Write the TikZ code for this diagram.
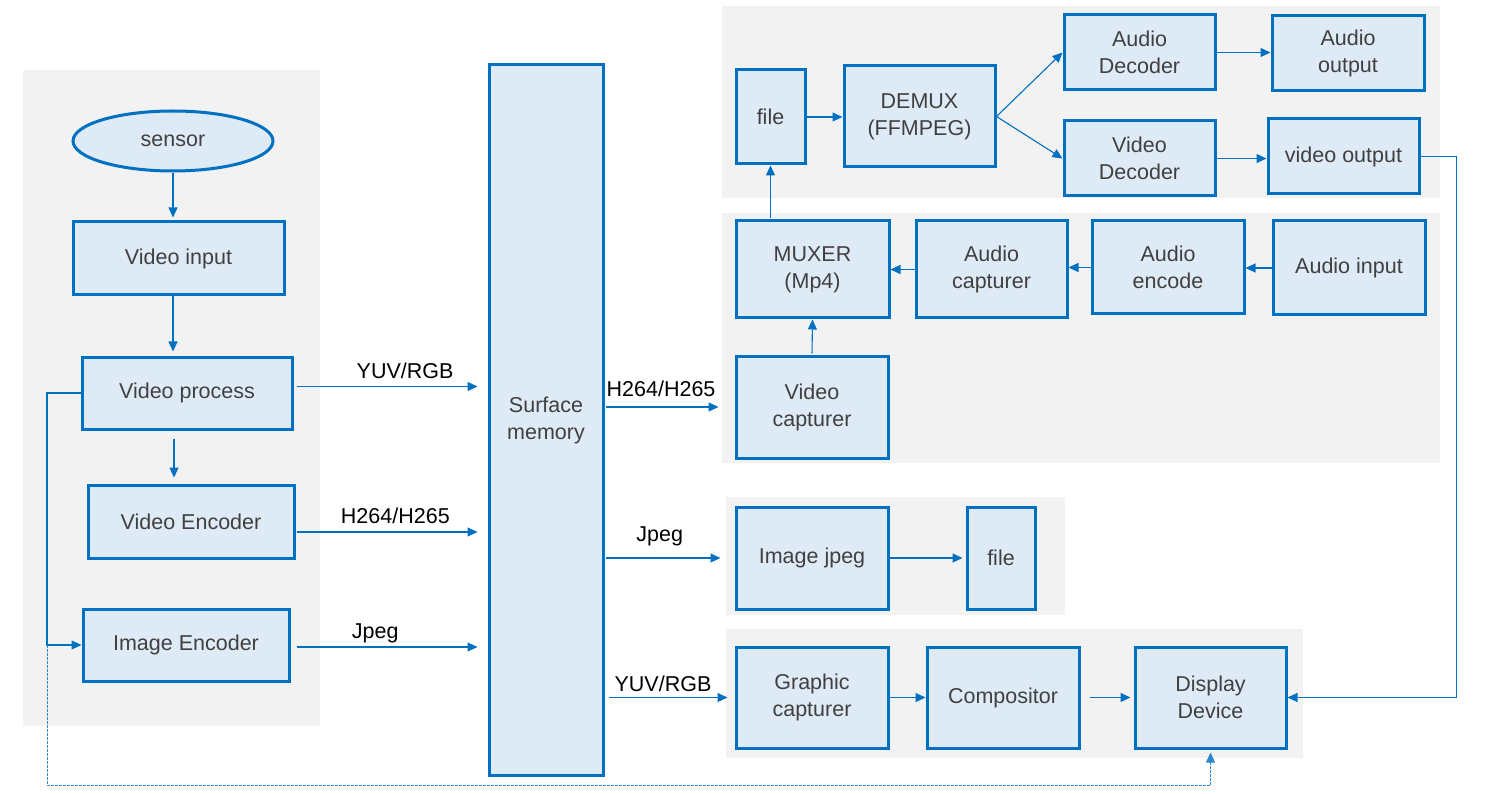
\documentclass[tikz,border=0pt]{standalone}
\usepackage{fontspec}
\setmainfont{Liberation Sans}
\usetikzlibrary{arrows.meta,shapes.geometric}
\begin{document}
\begin{tikzpicture}[x=1pt,y=-1pt,
  blk/.style={draw=flowBlue,fill=flowFill,line width=3pt,text=flowText,align=center,
    font=\fontsize{21.5}{27}\selectfont,inner sep=0pt},
  flow/.style={draw=flowBlue,line width=1.1pt,-{Triangle[length=10pt,width=9pt]}},
  lbl/.style={font=\fontsize{21.5}{24}\selectfont,text=black,inner sep=0pt}]
\definecolor{flowBlue}{HTML}{0070C0}
\definecolor{flowFill}{HTML}{DEEAF6}
\definecolor{flowText}{HTML}{404040}
\definecolor{panelGray}{HTML}{F2F2F2}
\definecolor{dashBlue}{HTML}{2F86CC}
\useasboundingbox (0,0) rectangle (1486,794);
% panels
\fill[panelGray] (23,70) rectangle (320,726);
\fill[panelGray] (722,6) rectangle (1440,198);
\fill[panelGray] (722,213) rectangle (1440,463);
\fill[panelGray] (726,497) rectangle (1065,615);
\fill[panelGray] (726,629) rectangle (1303,758);
% left column
\node[blk,ellipse,minimum width=200pt,minimum height=60pt] (sensor) at (173,141) {sensor};
\node[blk,minimum width=211pt,minimum height=73pt] (vin) at (178.5,258.5) {Video input};
\node[blk,minimum width=210pt,minimum height=72pt] (vproc) at (187,393) {Video process};
\node[blk,minimum width=206pt,minimum height=73pt] (venc) at (191,521.5) {Video Encoder};
\node[blk,minimum width=206pt,minimum height=72pt] (ienc) at (186,645) {Image Encoder};
\node[blk,minimum width=114pt,minimum height=710pt] (surf) at (546,420) {Surface\\memory};
% playback
\node[blk,minimum width=69pt,minimum height=94pt] (file1) at (770.5,117) {file};
\node[blk,minimum width=151pt,minimum height=101pt] (demux) at (919.5,116.5) {DEMUX\\(FFMPEG)};
\node[blk,minimum width=151pt,minimum height=75pt] (adec) at (1139.5,52.5) {Audio\\Decoder};
\node[blk,minimum width=152pt,minimum height=75pt] (aout) at (1348,53.5) {Audio\\output};
\node[blk,minimum width=151pt,minimum height=75pt] (vdec) at (1139.5,158.5) {Video\\Decoder};
\node[blk,minimum width=151pt,minimum height=75pt] (vout) at (1343.5,156.5) {video output};
% recording
\node[blk,minimum width=153pt,minimum height=97pt] (muxer) at (812.5,269.5) {MUXER\\(Mp4)};
\node[blk,minimum width=151pt,minimum height=97pt] (acap) at (991.5,269.5) {Audio\\capturer};
\node[blk,minimum width=152pt,minimum height=93pt] (aenc) at (1168,267.5) {Audio\\encode};
\node[blk,minimum width=152pt,minimum height=94pt] (ain) at (1349,268) {Audio input};
\node[blk,minimum width=152pt,minimum height=102pt] (vcap) at (812,407) {Video\\capturer};
% snapshot
\node[blk,minimum width=152pt,minimum height=102pt] (ijpg) at (812,558) {Image jpeg};
\node[blk,minimum width=68pt,minimum height=102pt] (file2) at (1001,558) {file};
% display
\node[blk,minimum width=152pt,minimum height=101pt] (gcap) at (812,697.5) {Graphic\\capturer};
\node[blk,minimum width=152pt,minimum height=101pt] (comp) at (1003,697.5) {Compositor};
\node[blk,minimum width=151pt,minimum height=101pt] (disp) at (1210.5,697.5) {Display\\Device};
% left chain
\draw[flow,shorten <=1pt,shorten >=3pt] (sensor.south) -- (sensor.south |- vin.north);
\draw[flow,shorten >=4pt] ([xshift=-5.5pt]vin.south) -- ([xshift=-5.5pt]vin.south |- vproc.north);
\draw[flow,shorten <=8pt,shorten >=6pt] ([xshift=-13pt]vproc.south) -- ([xshift=-13pt]vproc.south |- venc.north);
% into surface memory
\draw[flow,shorten <=3pt,shorten >=10pt] ([yshift=6.5pt]vproc.east) -- ([yshift=6.5pt]vproc.east -| surf.west)
  node[lbl,pos=0.575,above=7pt] {YUV/RGB};
\draw[flow,shorten <=1pt,shorten >=10pt] ([yshift=-10.5pt]venc.east) -- ([yshift=-10.5pt]venc.east -| surf.west)
  node[lbl,pos=0.52,above=8pt] {H264/H265};
\draw[flow,shorten <=6pt,shorten >=10pt] ([yshift=-2pt]ienc.east) -- ([yshift=-2pt]ienc.east -| surf.west)
  node[lbl,pos=0.43,above=3pt] {Jpeg};
% out of surface memory
\draw[flow,shorten <=1pt,shorten >=16pt] (vcap.west -| surf.east) -- (vcap.west)
  node[lbl,pos=0.435,above=10pt] {H264/H265};
\draw[flow,shorten <=1pt,shorten >=14pt] (ijpg.west -| surf.east) -- (ijpg.west)
  node[lbl,pos=0.425,above=11pt] {Jpeg};
\draw[flow,shorten <=4pt,shorten >=7pt] (gcap.west -| surf.east) -- (gcap.west)
  node[lbl,pos=0.45,above=5pt] {YUV/RGB};
% recording chain
\draw[flow,shorten <=1pt] (vcap.north) -- (muxer.south);
\draw[flow] (acap.west) -- (muxer.east);
\draw[flow] (aenc.west) -- (aenc.west -| acap.east);
\draw[flow] (ain.west) -- (ain.west -| aenc.east);
\draw[flow,shorten <=1pt] (muxer.north -| file1) -- (file1.south);
% playback chain
\draw[flow] (file1.east) -- (file1.east -| demux.west);
\draw[flow] (demux.east) -- (adec.west);
\draw[flow] (demux.east) -- (vdec.west);
\draw[flow] (adec.east) -- (adec.east -| aout.west);
\draw[flow,shorten <=-3pt] (vdec.east) -- (vdec.east -| vout.west);
\draw[flow] (vout.east) -- ++(36,0) |- (disp.east);
% snapshot and display chains
\draw[flow,shorten >=3pt] (ijpg.east) -- (file2.west);
\draw[flow] (gcap.east) -- (comp.west);
\draw[flow,shorten <=9pt,shorten >=3pt] (comp.east) -- (disp.west);
% bypass from video process
\coordinate (tap) at (47,645);
\draw[flow] (vproc.west) -| (tap) -- (ienc.west);
\draw[flow,draw=dashBlue,line width=1pt,dash pattern=on 2.5pt off 1.5pt,shorten >=3pt] (tap) -- ++(0,140) -| (disp.south);
\end{tikzpicture}
\end{document}
